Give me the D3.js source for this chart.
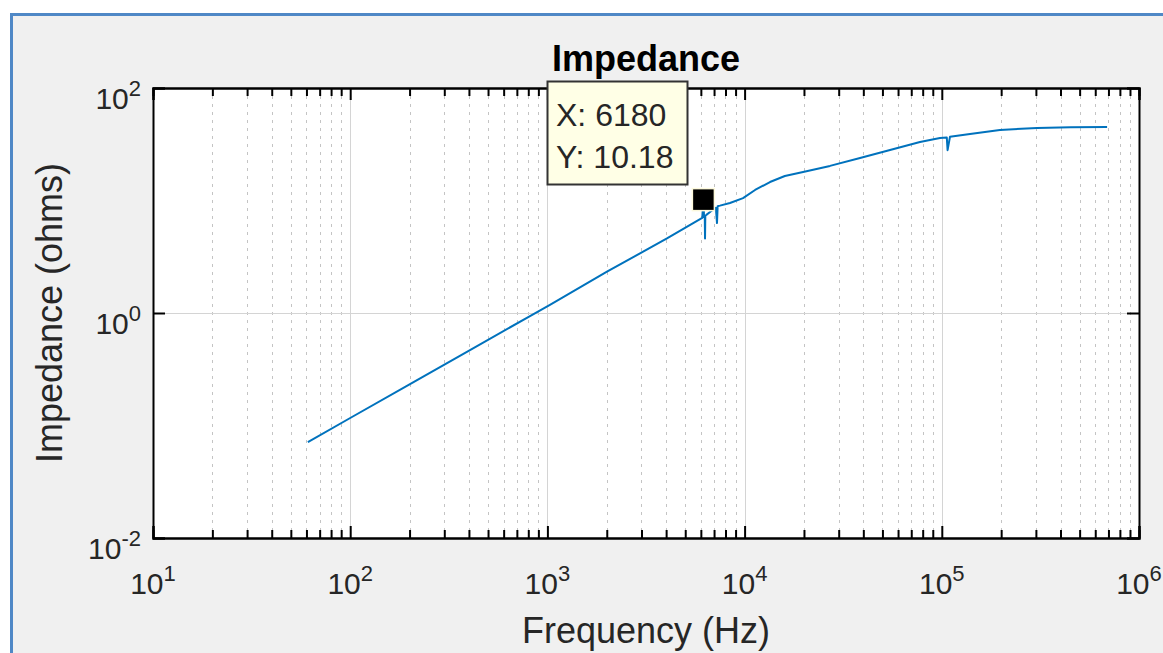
<!DOCTYPE html>
<html>
<head>
<meta charset="utf-8">
<script src="https://cdn.jsdelivr.net/npm/d3@7"></script>
<style>
  body { margin: 0; background: #ffffff; }
  text { font-family: "Liberation Sans", Arial, sans-serif; fill: #262626; }
</style>
</head>
<body>
<svg id="chart"></svg>
<script>
// frequency (Hz) and impedance (ohms)
var freq = [61, 100, 200, 405, 816, 1030, 2005, 4040, 5740, 6100, 6180, 6230, 6280, 6300, 6320, 6400, 6800, 7150, 7245, 7300, 7500, 8430, 9820, 11300, 13450, 16000, 19800, 27100, 38500, 77500, 97900, 106000, 107000, 110000, 139000, 197000, 304000, 450000, 689000];
var imped = [0.0713, 0.1166, 0.232, 0.468, 0.94, 1.18, 2.33, 4.6, 6.6, 7.0, 10.18, 7.1, 7.2, 4.6, 7.3, 7.45, 8.1, 8.6, 6.3, 8.9, 9.0, 9.5, 10.5, 12.4, 14.6, 16.5, 17.9, 20.3, 23.9, 33.1, 35.9, 36.3, 28.0, 36.8, 39.0, 42.4, 44.1, 44.7, 45.0];

// axis decades
var xTicks = [1e1, 1e2, 1e3, 1e4, 1e5, 1e6];
var xExp = ["1", "2", "3", "4", "5", "6"];
var yTicks = [1e-2, 1e0, 1e2];
var yExp = ["-2", "0", "2"];

// data tip
var tipX = 6180;
var tipY = 10.18;

var w = 1163;
var h = 653;
// plot box in pixels
var plotLeft = 153, plotRight = 1139, plotTop = 88, plotBottom = 538;

var svg = d3.select("#chart")
    .attr("width", w)
    .attr("height", h);

// figure background with blue frame
svg.append("rect")
    .attr("x", 11.5)
    .attr("y", 14.5)
    .attr("width", w + 20)
    .attr("height", h + 20)
    .attr("fill", "#f0f0f0")
    .attr("stroke", "#4f88c6")
    .attr("stroke-width", 3);

var xScale = d3.scaleLog()
    .domain([1e1, 1e6])
    .range([plotLeft, plotRight]);

var yScale = d3.scaleLog()
    .domain([1e-2, 1e2])
    .range([plotBottom, plotTop]);

// plot area
svg.append("rect")
    .attr("x", plotLeft)
    .attr("y", plotTop)
    .attr("width", plotRight - plotLeft)
    .attr("height", plotBottom - plotTop)
    .attr("fill", "#ffffff");

var minorX = xScale.ticks().filter(function(d) {
    return xTicks.indexOf(d) < 0;
});

// minor grid, dotted
svg.append("g")
    .selectAll("line")
    .data(minorX)
    .enter()
    .append("line")
    .attr("x1", function(d) { return Math.round(xScale(d)) + 0.5; })
    .attr("x2", function(d) { return Math.round(xScale(d)) + 0.5; })
    .attr("y1", plotTop)
    .attr("y2", plotBottom)
    .attr("stroke", "#c4c4c4")
    .attr("stroke-dasharray", "3,5");

// major grid
svg.append("g")
    .selectAll("line")
    .data(xTicks.slice(1, -1))
    .enter()
    .append("line")
    .attr("x1", function(d) { return Math.round(xScale(d)) + 0.5; })
    .attr("x2", function(d) { return Math.round(xScale(d)) + 0.5; })
    .attr("y1", plotTop)
    .attr("y2", plotBottom)
    .attr("stroke", "#d4d4d4");

svg.append("g")
    .selectAll("line")
    .data(yTicks.slice(1, -1))
    .enter()
    .append("line")
    .attr("x1", plotLeft)
    .attr("x2", plotRight)
    .attr("y1", function(d) { return Math.round(yScale(d)) + 0.5; })
    .attr("y2", function(d) { return Math.round(yScale(d)) + 0.5; })
    .attr("stroke", "#d4d4d4");

// impedance curve
var line = d3.line()
    .x(function(d, i) { return xScale(freq[i]); })
    .y(function(d) { return yScale(d); });

svg.append("path")
    .datum(imped)
    .attr("d", line)
    .attr("fill", "none")
    .attr("stroke", "#0072bd")
    .attr("stroke-width", 2)
    .attr("stroke-linejoin", "round");

// axes with inward ticks (MATLAB look)
var xAxisB = d3.axisBottom(xScale).tickValues(xTicks).tickSize(-12).tickFormat("");
var xAxisT = d3.axisTop(xScale).tickValues(xTicks).tickSize(-12).tickFormat("");
var xMinorB = d3.axisBottom(xScale).tickValues(minorX).tickSize(-8).tickFormat("");
var xMinorT = d3.axisTop(xScale).tickValues(minorX).tickSize(-8).tickFormat("");
var yAxisL = d3.axisLeft(yScale).tickValues(yTicks).tickSize(-12).tickFormat("");
var yAxisR = d3.axisRight(yScale).tickValues(yTicks).tickSize(-12).tickFormat("");

function styleAxis(g) {
    g.select(".domain").attr("stroke", "#000").attr("stroke-width", 2);
    g.selectAll(".tick line").attr("stroke", "#000").attr("stroke-width", 2);
}

svg.append("g").attr("transform", "translate(0," + plotBottom + ")").call(xMinorB).call(styleAxis);
svg.append("g").attr("transform", "translate(0," + plotTop + ")").call(xMinorT).call(styleAxis);
svg.append("g").attr("transform", "translate(0," + plotBottom + ")").call(xAxisB).call(styleAxis);
svg.append("g").attr("transform", "translate(0," + plotTop + ")").call(xAxisT).call(styleAxis);
svg.append("g").attr("transform", "translate(" + plotLeft + ",0)").call(yAxisL).call(styleAxis);
svg.append("g").attr("transform", "translate(" + plotRight + ",0)").call(yAxisR).call(styleAxis);

// tick labels as 10 with superscript
var xLab = svg.append("g")
    .selectAll("text")
    .data(xTicks)
    .enter()
    .append("text")
    .attr("x", function(d) { return xScale(d); })
    .attr("y", 594)
    .attr("text-anchor", "middle")
    .style("font-size", "30px");
xLab.append("tspan").text("10");
xLab.append("tspan")
    .attr("dy", -13)
    .style("font-size", "22px")
    .text(function(d, i) { return xExp[i]; });

var yLab = svg.append("g")
    .selectAll("text")
    .data(yTicks)
    .enter()
    .append("text")
    .attr("x", 141)
    .attr("y", function(d) { return yScale(d) + 21; })
    .attr("text-anchor", "end")
    .style("font-size", "30px");
yLab.append("tspan").text("10");
yLab.append("tspan")
    .attr("dy", -13)
    .style("font-size", "22px")
    .text(function(d, i) { return yExp[i]; });

// title and axis labels
svg.append("text")
    .attr("x", (plotLeft + plotRight) / 2)
    .attr("y", 71)
    .attr("text-anchor", "middle")
    .style("font-size", "36px")
    .style("font-weight", "bold")
    .style("fill", "#000")
    .text("Impedance");

svg.append("text")
    .attr("x", (plotLeft + plotRight) / 2)
    .attr("y", 643)
    .attr("text-anchor", "middle")
    .style("font-size", "36px")
    .text("Frequency (Hz)");

svg.append("text")
    .attr("transform", "translate(62," + ((plotTop + plotBottom) / 2) + ") rotate(-90)")
    .attr("text-anchor", "middle")
    .style("font-size", "36px")
    .text("Impedance (ohms)");

// data tip marker and box
var mx = xScale(tipX), my = yScale(tipY);
svg.append("rect")
    .attr("x", mx - 11)
    .attr("y", my - 11)
    .attr("width", 22)
    .attr("height", 22)
    .attr("fill", "#000")
    .attr("stroke", "#fdf9dc")
    .attr("stroke-width", 1.5);

var tip = svg.append("g");
tip.append("rect")
    .attr("x", 547.5)
    .attr("y", 81.5)
    .attr("width", 140)
    .attr("height", 103)
    .attr("fill", "#ffffe6")
    .attr("stroke", "#333")
    .attr("stroke-width", 2);
tip.append("text")
    .attr("x", 556)
    .attr("y", 126)
    .style("font-size", "32px")
    .text("X: " + tipX);
tip.append("text")
    .attr("x", 556)
    .attr("y", 168)
    .style("font-size", "32px")
    .text("Y: " + tipY);
</script>
</body>
</html>
